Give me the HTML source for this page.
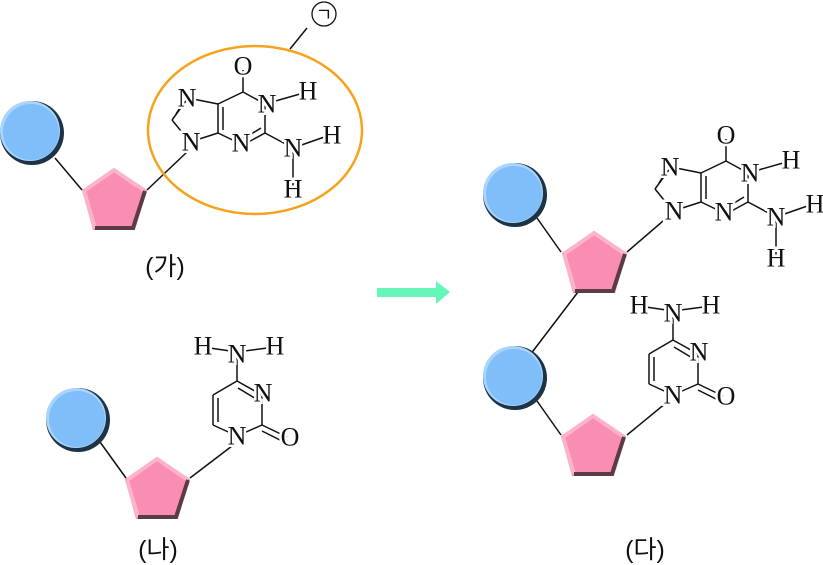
<!DOCTYPE html>
<html><head><meta charset="utf-8"><style>
html,body{margin:0;padding:0;background:#fff;}
svg{display:block;}
.t{font-family:"Liberation Serif",serif;font-size:26px;text-anchor:middle;dominant-baseline:central;fill:#111;stroke:#fff;stroke-width:5px;paint-order:stroke;}
.b{stroke:#111;stroke-width:1.5;fill:none;}
.k{font-family:"Liberation Sans","Noto Sans CJK KR",sans-serif;font-size:25px;text-anchor:middle;fill:#111;}
</style></head><body>
<svg width="823" height="565" viewBox="0 0 823 565" xmlns="http://www.w3.org/2000/svg">
<defs>
<g id="circ">
<circle cx="0" cy="0" r="32" fill="#1d3346"/>
<circle cx="-2" cy="-2" r="30" fill="#a9d4fb"/>
<circle cx="-1" cy="-1" r="28" fill="#7fbef9"/>
</g>
<g id="pent">
<polygon points="32,0 65,22 53,62 11,62 0,22" fill="#f98db3"/>
<polyline points="2,23 32,2 63,23" fill="none" stroke="#fcb3cb" stroke-width="4"/>
<polyline points="2,23 13,60" fill="none" stroke="#fcb3cb" stroke-width="4"/>
<polyline points="63,23 51,60 13,60" fill="none" stroke="#5b3b44" stroke-width="4"/>
</g>
<g id="gua" font-family="Liberation Serif, serif" font-size="26">
<line class="b" x1="243" y1="70" x2="243" y2="92"/>
<line class="b" x1="243" y1="92" x2="265" y2="104"/>
<line class="b" x1="265" y1="104" x2="307" y2="92"/>
<line class="b" x1="265" y1="104" x2="265" y2="133"/>
<line class="b" x1="265" y1="133" x2="243" y2="145"/>
<line class="b" x1="261" y1="128" x2="243" y2="139"/>
<line class="b" x1="265" y1="133" x2="293" y2="148"/>
<line class="b" x1="293" y1="148" x2="330" y2="135"/>
<line class="b" x1="293" y1="148" x2="293" y2="188"/>
<line class="b" x1="243" y1="145" x2="218" y2="133"/>
<line class="b" x1="218" y1="133" x2="218" y2="104"/>
<line class="b" x1="223" y1="130" x2="223" y2="107"/>
<line class="b" x1="218" y1="104" x2="243" y2="92"/>
<line class="b" x1="218" y1="104" x2="188" y2="98"/>
<line class="b" x1="188" y1="98" x2="172" y2="120"/>
<line class="b" x1="183" y1="103" x2="176" y2="114"/>
<line class="b" x1="172" y1="120" x2="190" y2="142"/>
<line class="b" x1="190" y1="142" x2="218" y2="133"/>
<text class="t" x="243" y="66" font-size="26">O</text>
<text class="t" x="267" y="104" font-size="26">N</text>
<text class="t" x="308" y="91" font-size="26">H</text>
<text class="t" x="241" y="143" font-size="26">N</text>
<text class="t" x="293" y="148" font-size="26">N</text>
<text class="t" x="332" y="135" font-size="26">H</text>
<text class="t" x="293" y="189" font-size="26">H</text>
<text class="t" x="187" y="98" font-size="26">N</text>
<text class="t" x="191" y="142" font-size="26">N</text>
</g>
<g id="cyt">
<line class="b" x1="203" y1="347" x2="237" y2="352"/>
<line class="b" x1="237" y1="352" x2="275" y2="347"/>
<line class="b" x1="237" y1="352" x2="237" y2="381"/>
<line class="b" x1="237" y1="381" x2="213" y2="395"/>
<line class="b" x1="213" y1="395" x2="213" y2="425"/>
<line class="b" x1="218" y1="398" x2="218" y2="422"/>
<line class="b" x1="213" y1="425" x2="237" y2="436"/>
<line class="b" x1="237" y1="436" x2="262" y2="425"/>
<line class="b" x1="262" y1="425" x2="262" y2="395"/>
<line class="b" x1="262" y1="395" x2="237" y2="381"/>
<line class="b" x1="258" y1="400" x2="238" y2="388"/>
<line class="b" x1="262" y1="425" x2="287" y2="437"/>
<line class="b" x1="262" y1="431" x2="284" y2="442"/>
<text class="t" x="203" y="346" font-size="26">H</text>
<text class="t" x="237" y="354" font-size="26">N</text>
<text class="t" x="275" y="346" font-size="26">H</text>
<text class="t" x="263" y="393" font-size="26">N</text>
<text class="t" x="237" y="436" font-size="26">N</text>
<text class="t" x="290" y="437" font-size="26">O</text>
</g>
</defs>

<!-- (가) -->
<line class="b" x1="55" y1="158" x2="82" y2="190"/>
<line class="b" x1="147" y1="190" x2="187" y2="152"/>
<use href="#circ" x="32" y="133"/>
<use href="#pent" x="82" y="168"/>
<use href="#gua"/>
<ellipse cx="255" cy="130" rx="107" ry="84" fill="none" stroke="#f6a21c" stroke-width="2.5"/>
<line class="b" x1="290" y1="49" x2="307" y2="28"/>
<circle cx="324" cy="14" r="12" fill="#fff" stroke="#111" stroke-width="1.3"/>
<text class="k" x="324" y="21" font-size="18" style="font-size:18px">ㄱ</text>
<text class="k" x="165" y="275" font-size="25">(가)</text>

<!-- (나) -->
<line class="b" x1="100" y1="442" x2="126" y2="478"/>
<line class="b" x1="190" y1="478" x2="232" y2="446"/>
<use href="#circ" x="78" y="420"/>
<use href="#pent" x="125" y="457"/>
<use href="#cyt"/>
<text class="k" x="158" y="558" font-size="25">(나)</text>

<!-- arrow -->
<polygon points="377,288 436,288 436,281 450,292 436,304 436,297 377,297" fill="#66f7b8"/>

<!-- (다) -->
<line class="b" x1="537" y1="218" x2="561" y2="252"/>
<line class="b" x1="627" y1="252" x2="670" y2="215"/>
<line class="b" x1="578" y1="292" x2="530" y2="355"/>
<line class="b" x1="537" y1="401" x2="561" y2="435"/>
<line class="b" x1="627" y1="435" x2="666" y2="403"/>
<use href="#circ" x="515" y="195"/>
<use href="#pent" x="562" y="231"/>
<use href="#circ" x="515" y="378"/>
<use href="#pent" x="561" y="414"/>
<use href="#gua" transform="translate(483,69)"/>
<use href="#cyt" transform="translate(436,-41)"/>
<text class="k" x="645" y="558" font-size="25">(다)</text>
</svg>
</body></html>
